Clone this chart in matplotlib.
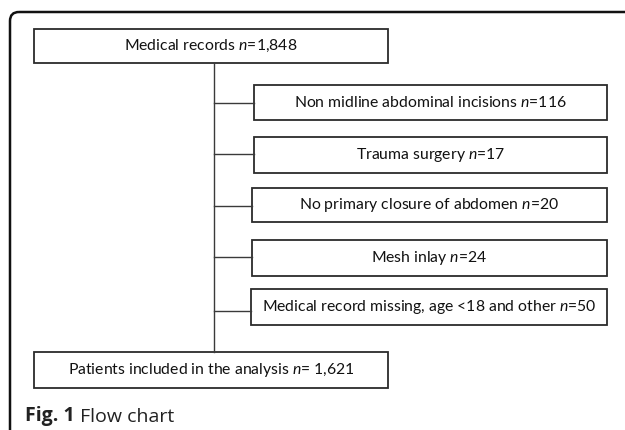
import matplotlib.pyplot as plt
from matplotlib.patches import Rectangle, FancyBboxPatch

plt.rcParams['mathtext.fontset'] = 'custom'
plt.rcParams['mathtext.rm'] = 'Lato'
plt.rcParams['mathtext.it'] = 'Lato:italic'
plt.rcParams['mathtext.bf'] = 'Lato:bold'

# === Data ===
start_label = "Medical records"
start_n = "1,848"
excl_labels = [
    "Non midline abdominal incisions",
    "Trauma surgery",
    "No primary closure of abdomen",
    "Mesh inlay",
    "Medical record missing, age <18 and other",
]
excl_n = ["116", "17", "20", "24", "50"]
end_label = "Patients included in the analysis"
end_n = " 1,621"
caption_bold = "Fig. 1"
caption_text = " Flow chart"

# === Layout (pixels, y down) ===
main_box = (34, 388)              # x range of start/end boxes
start_y = (29, 63)
end_y = (352, 388)
spine_x = 214
excl_left = [254, 254, 252, 252, 251]
excl_right = 607
excl_y = [(85, 120), (137, 173), (188, 222), (240, 276), (289, 325)]
conn_y = [103, 154, 206, 257, 311]

fig = plt.figure(figsize=(6.25, 4.3), dpi=100)
ax = fig.add_axes([0, 0, 1, 1])
ax.set_xlim(0, 625)
ax.set_ylim(430, 0)
ax.axis('off')

box_kw = dict(fill=False, edgecolor='#2b2b2b', linewidth=1.3)
line_kw = dict(color='#3a3a3a', linewidth=1.0)
txt_kw = dict(ha='center', va='center', fontsize=11.3, family='Lato', color='#111111')


def box(x0, x1, y0, y1, text):
    ax.add_patch(Rectangle((x0, y0), x1 - x0, y1 - y0, **box_kw))
    ax.text((x0 + x1) / 2, (y0 + y1) / 2, text, **txt_kw)


# outer frame (continues past the crop)
ax.add_patch(FancyBboxPatch((10, 12), 700, 500,
                            boxstyle="round,pad=0,rounding_size=9",
                            fill=False, edgecolor='#111111', linewidth=1.8))

# spine and connectors
ax.plot([spine_x, spine_x], [start_y[1], end_y[0]], **line_kw)
for x0, cy in zip(excl_left, conn_y):
    ax.plot([spine_x, x0], [cy, cy], **line_kw)

box(main_box[0], main_box[1], start_y[0], start_y[1], f"{start_label} $n$={start_n}")
for lab, n, x0, (y0, y1) in zip(excl_labels, excl_n, excl_left, excl_y):
    box(x0, excl_right, y0, y1, f"{lab} $n$={n}")
box(main_box[0], main_box[1], end_y[0], end_y[1], f"{end_label} $n$={end_n}")

# caption
t1 = ax.text(25, 416, caption_bold, ha='left', va='center', fontsize=14,
             family='Open Sans', fontweight='bold', color='#222222')
ax.annotate(caption_text, xy=(1, 0), xycoords=t1, ha='left', va='bottom',
            fontsize=14, family='Open Sans', color='#222222')

fig.savefig('out.png', dpi=100)
